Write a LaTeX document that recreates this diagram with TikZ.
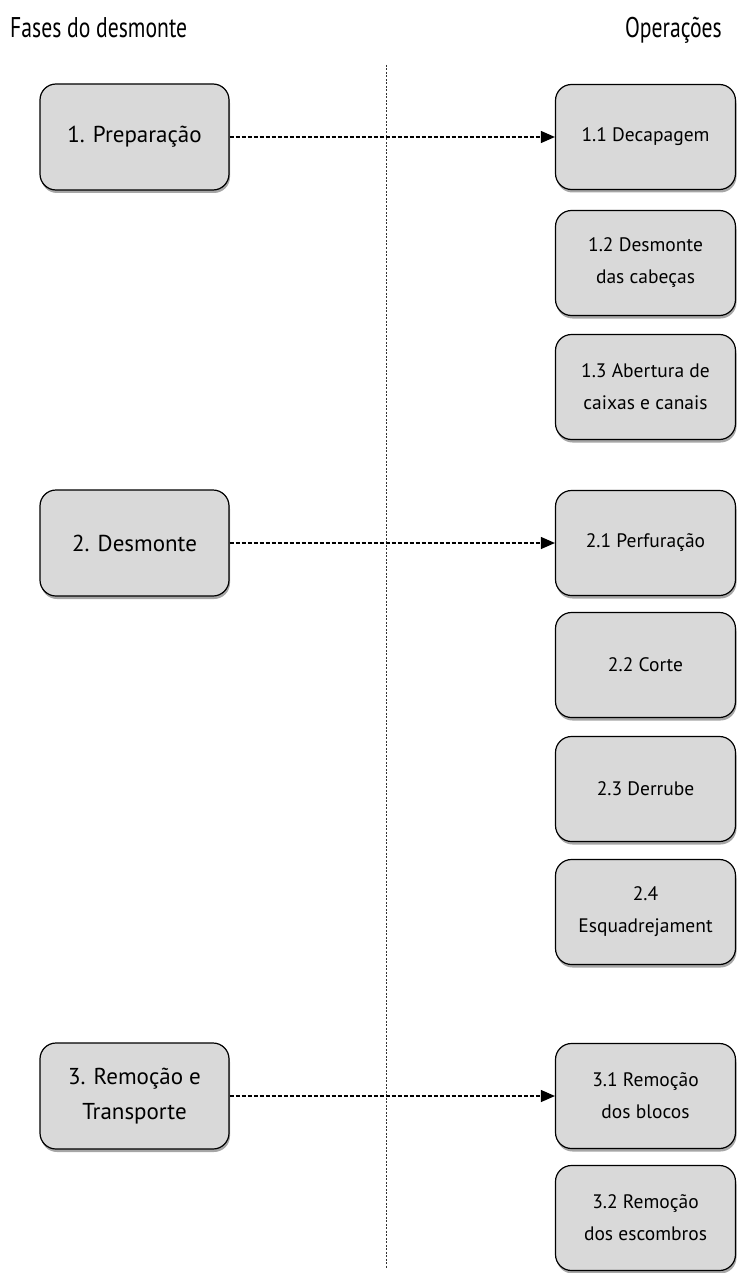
\documentclass[tikz,border=0pt]{standalone}
\usepackage{fontspec}
\setmainfont{PT Sans}
\newfontfamily\titlefont[FakeStretch=0.76]{PT Sans}
\usetikzlibrary{shadows,arrows.meta}
\begin{document}
\begin{tikzpicture}[x=1pt,y=-1pt,
  phase/.style={draw=black,line width=1.2pt,fill=boxgray,rounded corners=16pt,
    minimum width=189pt,minimum height=106pt,align=center,font=\fontsize{23}{35}\selectfont,
    drop shadow={shadow xshift=1pt,shadow yshift=-3pt,opacity=0.35,fill=black}},
  oper/.style={draw=black,line width=1.2pt,fill=boxgray,rounded corners=16pt,
    minimum width=180pt,minimum height=105pt,align=center,font=\fontsize{19.5}{32}\selectfont,
    drop shadow={shadow xshift=1pt,shadow yshift=-3pt,opacity=0.35,fill=black}},
  link/.style={dashed,line width=1.1pt,dash pattern=on 4pt off 2pt,-{Triangle[length=14pt,width=12pt]}},
  title/.style={font=\titlefont\fontsize{28.5}{32}\selectfont,inner sep=0pt}]
\definecolor{boxgray}{HTML}{D9D9D9}
\useasboundingbox (0,0) rectangle (737,1273);
\node[title,anchor=base west] (t1) at (10,38) {Fases do desmonte};
\node[title,anchor=base east] (t2) at (722,38) {Operações};
\coordinate (vtop) at (386,65);
\coordinate (vbot) at (386,1268);
\draw[dash pattern=on 2pt off 1.5pt,line width=0.7pt,black!80] (vtop) -- (vbot);
\node[phase] (p1) at (134.5,137) {1. Preparação};
\node[phase] (p2) at (134.5,543) {2. Desmonte};
\node[phase] (p3) at (134.5,1096) {3. Remoção e\\Transporte};
\node[oper] (o11) at (645.5,137) {1.1 Decapagem};
\node[oper] (o12) at (645.5,263) {1.2 Desmonte\\das cabeças};
\node[oper] (o13) at (645.5,387) {1.3 Abertura de\\caixas e canais};
\node[oper] (o21) at (645.5,543) {2.1 Perfuração};
\node[oper] (o22) at (645.5,665) {2.2 Corte};
\node[oper] (o23) at (645.5,789) {2.3 Derrube};
\node[oper] (o24) at (645.5,912) {2.4\\Esquadrejament};
\node[oper] (o31) at (645.5,1096) {3.1 Remoção\\dos blocos};
\node[oper] (o32) at (645.5,1218) {3.2 Remoção\\dos escombros};
\draw[link] (p1) -- (o11);
\draw[link] (p2) -- (o21);
\draw[link] (p3) -- (o31);
\end{tikzpicture}
\end{document}
